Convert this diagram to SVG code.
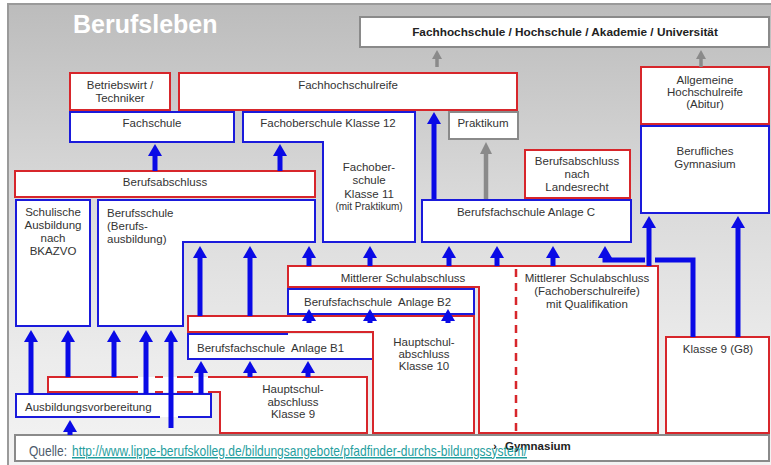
<svg xmlns="http://www.w3.org/2000/svg" width="771" height="465" viewBox="0 0 771 465">
<defs>
<linearGradient id="bg" x1="0" y1="0" x2="0" y2="1">
<stop offset="0" stop-color="#bcbcbc"/>
<stop offset="0.4" stop-color="#d9d9d9"/>
<stop offset="0.75" stop-color="#ececec"/>
<stop offset="1" stop-color="#f4f4f4"/>
</linearGradient>
<marker id="ab" markerUnits="userSpaceOnUse" viewBox="0 -7 12 14" markerWidth="12" markerHeight="14" refX="0" refY="0" orient="auto"><path d="M0,-7 L12,0 L0,7 z" fill="#0a0ae6"/></marker>
<marker id="ag" markerUnits="userSpaceOnUse" viewBox="0 -6 12 12" markerWidth="12" markerHeight="12" refX="0" refY="0" orient="auto"><path d="M0,-6 L12,0 L0,6 z" fill="#8a8a8a"/></marker>
<marker id="ags" markerUnits="userSpaceOnUse" viewBox="0 -5 9 10" markerWidth="9" markerHeight="10" refX="0" refY="0" orient="auto"><path d="M0,-5 L9,0 L0,5 z" fill="#8a8a8a"/></marker>
<style>
.r{fill:#fff;stroke:#d7262b;stroke-width:2}
.b{fill:#fff;stroke:#1a1adb;stroke-width:2}
.g{fill:#fff;stroke:#8a8a8a;stroke-width:2}
.f{fill:#fff;stroke:none}
.ro{fill:none;stroke:#d7262b;stroke-width:2}
.bo{fill:none;stroke:#1a1adb;stroke-width:2}
.rd{fill:none;stroke:#d7262b;stroke-width:2.5;stroke-dasharray:8 6}
text{font-family:"Liberation Sans",Arial,sans-serif;font-size:11.5px;fill:#333}
.c{text-anchor:middle}
.sm{font-size:10px}
.a{fill:none;stroke:#0a0ae6;stroke-width:5;marker-end:url(#ab)}
.an{fill:none;stroke:#0a0ae6;stroke-width:5}
.ga{fill:none;stroke:#8a8a8a;stroke-width:4.5;marker-end:url(#ag)}
.gs{fill:none;stroke:#8a8a8a;stroke-width:3.5;marker-end:url(#ags)}
</style>
</defs>
<rect x="0" y="0" width="771" height="465" fill="#fff"/>
<rect x="8" y="4" width="775" height="475" fill="url(#bg)" stroke="#9a9a9a" stroke-width="2"/>
<text x="73" y="33" style="font-size:25px;font-weight:bold;fill:#fff">Berufsleben</text>

<g id="hochschule"><rect class="g" x="360" y="17" width="409" height="30"/><text class="c" x="565" y="36" style="font-weight:bold;font-size:11.8px;fill:#222">Fachhochschule / Hochschule / Akademie / Universität</text></g>
<g id="betriebswirt"><rect class="r" x="70" y="73" width="100" height="37"/><text class="c" x="120" y="89">Betriebswirt /</text><text class="c" x="120" y="102">Techniker</text></g>
<g id="fachhochschulreife"><rect class="r" x="179" y="73" width="338" height="37"/><text class="c" x="348" y="89">Fachhochschulreife</text></g>
<g id="abitur"><rect class="r" x="641" y="67" width="128" height="57"/><text class="c" x="705" y="84">Allgemeine</text><text class="c" x="705" y="96">Hochschulreife</text><text class="c" x="705" y="108">(Abitur)</text></g>
<g id="fachschule"><rect class="b" x="70" y="112" width="164" height="30"/><text class="c" x="152" y="127">Fachschule</text></g>
<g id="fachoberschule"><path class="b" d="M243,112 H415 V242 H323 V142 H243 Z"/><text class="c" x="328" y="127">Fachoberschule Klasse 12</text><text class="c" x="369" y="171">Fachober-</text><text class="c" x="369" y="184">schule</text><text class="c" x="369" y="198">Klasse 11</text><text class="c sm" x="369" y="210">(mit Praktikum)</text></g>
<g id="praktikum"><rect class="g" x="449" y="112" width="69" height="27"/><text class="c" x="483" y="127">Praktikum</text></g>
<g id="landesrecht"><rect class="r" x="525" y="150" width="105" height="48"/><text class="c" x="577" y="165">Berufsabschluss</text><text class="c" x="577" y="178">nach</text><text class="c" x="577" y="191">Landesrecht</text></g>
<g id="berufliches-gymnasium"><rect class="b" x="641" y="126" width="128" height="87"/><text class="c" x="705" y="155">Berufliches</text><text class="c" x="705" y="168">Gymnasium</text></g>
<g id="berufsabschluss"><rect class="r" x="15" y="171" width="300" height="26"/><text class="c" x="165" y="186">Berufsabschluss</text></g>
<g id="bkazvo"><rect class="b" x="16" y="200" width="74" height="126"/><text class="c" x="53" y="216">Schulische</text><text class="c" x="53" y="229">Ausbildung</text><text class="c" x="53" y="242">nach</text><text class="c" x="53" y="255">BKAZVO</text></g>
<g id="berufsschule"><path class="b" d="M98,200 H315 V242 H183 V326 H98 Z"/><text x="107" y="217">Berufsschule</text><text x="107" y="230">(Berufs-</text><text x="107" y="243">ausbildung)</text></g>
<g id="anlage-c"><rect class="b" x="422" y="200" width="209" height="42"/><text class="c" x="526" y="216">Berufsfachschule Anlage C</text></g>
<g id="mittlerer"><path class="r" d="M288,266 H658 V433 H479 V287 H288 Z"/><line class="rd" x1="516" y1="269" x2="516" y2="431"/><text class="c" x="403" y="282">Mittlerer Schulabschluss</text><text class="c" x="587" y="282">Mittlerer Schulabschluss</text><text class="c" x="587" y="295">(Fachoberschulreife)</text><text class="c" x="587" y="308">mit Qualifikation</text></g>
<g id="anlage-b2"><rect class="b" x="288" y="289" width="186" height="25"/><text x="304" y="306" xml:space="preserve">Berufsfachschule  Anlage B2</text></g>
<g id="anlage-b1"><rect class="f" x="188" y="334" width="185" height="25"/><path class="bo" d="M288,334 H188 V359 H373"/><text x="197" y="352" xml:space="preserve">Berufsfachschule  Anlage B1</text></g>
<g id="hauptschul-10"><path class="r" d="M188,316 H474 V433 H373 V332 H188 Z"/><text class="c" x="424" y="346">Hauptschul-</text><text class="c" x="424" y="358">abschluss</text><text class="c" x="424" y="370">Klasse 10</text></g>
<g id="hauptschul-9"><path class="f" d="M48,377 H367 V433 H220 V392 H48 Z"/><path class="ro" d="M48,392 V377 H138 M155,377 H163 M177,377 H193 M208,377 H367 V433 H220 V392 H208 M193,392 H177 M163,392 H155 M138,392 H47"/><text class="c" x="293" y="393">Hauptschul-</text><text class="c" x="293" y="406">abschluss</text><text class="c" x="293" y="418">Klasse 9</text></g>
<g id="ausbildungsvorbereitung"><rect class="f" x="16" y="394" width="195" height="23"/><path class="bo" d="M160,417 H16 V394 H211 V417 H178"/><text x="25" y="411">Ausbildungsvorbereitung</text></g>
<g id="klasse9-g8"><rect class="r" x="666" y="337" width="103" height="96"/><text class="c" x="718" y="353">Klasse 9 (G8)</text></g>
<g id="gymnasium"><rect class="g" x="15" y="435" width="754" height="26"/><text x="493" y="450" style="font-weight:bold;fill:#222">›</text><text x="505" y="450" style="font-weight:bold;fill:#222">Gymnasium</text></g>

<g id="connectors">
<path class="gs" d="M437,67 V59"/>
<path class="gs" d="M701,67 V59"/>
<path class="ga" d="M486,199 V154"/>
<path class="a" d="M155,171 V156"/>
<path class="a" d="M280,171 V156"/>
<path class="a" d="M434,199 V124"/>
<path class="a" d="M200,316 V258"/>
<path class="a" d="M250,316 V258"/>
<path class="a" d="M309,266 V258"/>
<path class="a" d="M370,266 V258"/>
<path class="a" d="M449,266 V258"/>
<path class="a" d="M497,266 V258"/>
<path class="a" d="M553,266 V258"/>
<path class="an" d="M693,337 V260 H655"/>
<path class="a" d="M645,260 H605 V258"/>
<path class="a" d="M649,266 V228"/>
<path class="a" d="M738,337 V228"/>
<path class="a" d="M31,394 V342"/>
<path class="a" d="M68,377 V342"/>
<path class="a" d="M114,377 V342"/>
<path class="a" d="M146,394 V342"/>
<path class="a" d="M171,428 V342"/>
<path class="a" d="M201,394 V373"/>
<path class="a" d="M250,377 V373"/>
<path class="a" d="M308,377 V373"/>
<path class="a" d="M309,323 V321"/>
<path class="a" d="M370,323 V321"/>
<path class="a" d="M448,323 V321"/>
<path class="a" d="M70,435 V432"/>
</g>

<g id="quelle">
<text x="29" y="456" textLength="38" lengthAdjust="spacingAndGlyphs" style="font-size:15px;fill:#4d5b6b">Quelle:</text>
<text x="72" y="456" textLength="455" lengthAdjust="spacingAndGlyphs" style="font-size:15px;fill:#1f9e9e;text-decoration:underline">http://www.lippe-berufskolleg.de/bildungsangebote/pfadfinder-durchs-bildungssystem/</text>
</g>
</svg>
